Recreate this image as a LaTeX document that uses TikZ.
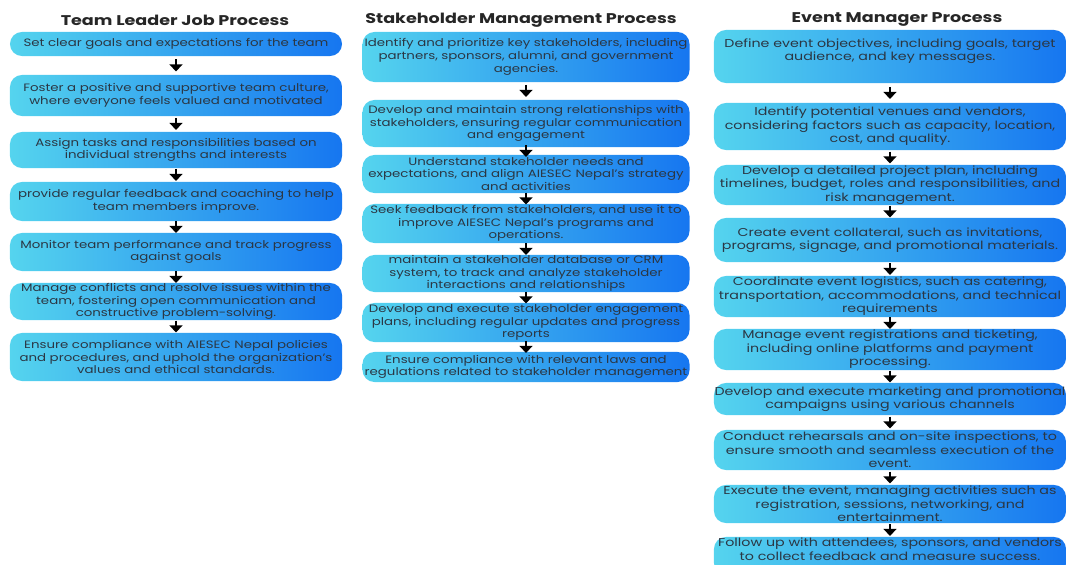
\documentclass[tikz,border=0pt]{standalone}
\usepackage{fontspec}
\setmainfont[FakeStretch=1.25]{Poppins}
\usetikzlibrary{arrows.meta,calc}
\definecolor{boxcyan}{HTML}{55D4EE}
\definecolor{boxblue}{HTML}{1676F0}
\definecolor{boxtext}{HTML}{2B3744}
\tikzset{
  stepbox/.style={rounded corners=0.3cm, left color=boxcyan, right color=boxblue,
    align=center, text=boxtext, inner sep=0pt},
  leadbox/.style={stepbox, minimum width=8.3cm, font=\fontsize{7.6}{9}\selectfont},
  stakebox/.style={stepbox, minimum width=8.175cm, font=\fontsize{7.6}{9}\selectfont},
  eventbox/.style={stepbox, minimum width=8.8cm, font=\fontsize{8.1}{9.6}\selectfont},
  heading/.style={font=\bfseries\fontsize{10}{12}\selectfont, text=black!85},
  flowarrow/.style={line width=2pt, -{Triangle[width=9pt,length=5pt]}}
}
\begin{document}
\begin{tikzpicture}[x=0.025cm,y=-0.025cm]
    \useasboundingbox (0,0) rectangle (1067,565);
    % team leader
    \node[heading] (lead) at (175,20) {Team Leader Job Process};
    \node[leadbox, minimum height=0.6cm] (t1) at (176,44) {Set clear goals and expectations for the team};
    \node[leadbox, minimum height=1.025cm] (t2) at (176,95.5) {Foster a positive and supportive team culture,\\ where everyone feels valued and motivated};
    \node[leadbox, minimum height=0.9cm] (t3) at (176,150) {Assign tasks and responsibilities based on\\ individual strengths and interests};
    \node[leadbox, minimum height=0.975cm] (t4) at (176,201.5) {provide regular feedback and coaching to help\\ team members improve.};
    \node[leadbox, minimum height=0.95cm] (t5) at (176,252) {Monitor team performance and track progress\\ against goals};
    \node[leadbox, minimum height=0.925cm] (t6) at (176,301.5) {Manage conflicts and resolve issues within the\\ team, fostering open communication and\\ constructive problem-solving.};
    \node[leadbox, minimum height=1.2cm] (t7) at (176,357) {Ensure compliance with AIESEC Nepal policies\\ and procedures, and uphold the organization's\\ values and ethical standards.};
    \draw[flowarrow] ($(t1.south)!.5!(t2.north)$) ++(0,-6) -- ++(0,12);
    \draw[flowarrow] ($(t2.south)!.5!(t3.north)$) ++(0,-6) -- ++(0,12);
    \draw[flowarrow] ($(t3.south)!.5!(t4.north)$) ++(0,-6) -- ++(0,12);
    \draw[flowarrow] ($(t4.south)!.5!(t5.north)$) ++(0,-6) -- ++(0,12);
    \draw[flowarrow] ($(t5.south)!.5!(t6.north)$) ++(0,-6) -- ++(0,12);
    \draw[flowarrow] ($(t6.south)!.5!(t7.north)$) ++(0,-6) -- ++(0,12);
    % stakeholder
    \node[heading] (stake) at (521,20) {Stakeholder Management Process};
    \node[stakebox, minimum height=1.25cm] (s1) at (526,57) {Identify and prioritize key stakeholders, including\\ partners, sponsors, alumni, and government\\ agencies.};
    \node[stakebox, minimum height=1.175cm] (s2) at (526,123.5) {Develop and maintain strong relationships with\\ stakeholders, ensuring regular communication\\ and engagement};
    \node[stakebox, minimum height=0.95cm] (s3) at (526,174) {Understand stakeholder needs and\\ expectations, and align AIESEC Nepal's strategy\\ and activities};
    \node[stakebox, minimum height=0.975cm] (s4) at (526,223.5) {Seek feedback from stakeholders, and use it to\\ improve AIESEC Nepal's programs and\\ operations.};
    \node[stakebox, minimum height=0.925cm] (s5) at (526,273.5) {maintain a stakeholder database or CRM\\ system, to track and analyze stakeholder\\ interactions and relationships};
    \node[stakebox, minimum height=0.975cm] (s6) at (526,322.5) {Develop and execute stakeholder engagement\\ plans, including regular updates and progress\\ reports};
    \node[stakebox, minimum height=0.75cm] (s7) at (526,367) {Ensure compliance with relevant laws and\\ regulations related to stakeholder management};
    \draw[flowarrow] ($(s1.south)!.5!(s2.north)$) ++(0,-6) -- ++(0,12);
    \draw[flowarrow] ($(s2.south)!.5!(s3.north)$) ++(0,-6) -- ++(0,12);
    \draw[flowarrow] ($(s3.south)!.5!(s4.north)$) ++(0,-6) -- ++(0,12);
    \draw[flowarrow] ($(s4.south)!.5!(s5.north)$) ++(0,-6) -- ++(0,12);
    \draw[flowarrow] ($(s5.south)!.5!(s6.north)$) ++(0,-6) -- ++(0,12);
    \draw[flowarrow] ($(s6.south)!.5!(s7.north)$) ++(0,-6) -- ++(0,12);
    % event manager
    \node[heading] (event) at (897,19) {Event Manager Process};
    \node[eventbox, minimum height=1.325cm] (e1) at (890,56.5) {Define event objectives, including goals, target\\ audience, and key messages.\\ \mbox{}};
    \node[eventbox, minimum height=1.175cm] (e2) at (890,126.5) {Identify potential venues and vendors,\\ considering factors such as capacity, location,\\ cost, and quality.};
    \node[eventbox, minimum height=1cm] (e3) at (890,185) {Develop a detailed project plan, including\\ timelines, budget, roles and responsibilities, and\\ risk management.};
    \node[eventbox, minimum height=1.1cm] (e4) at (890,240) {Create event collateral, such as invitations,\\ programs, signage, and promotional materials.};
    \node[eventbox, minimum height=1.025cm] (e5) at (890,296.5) {Coordinate event logistics, such as catering,\\ transportation, accommodations, and technical\\ requirements};
    \node[eventbox, minimum height=1.025cm] (e6) at (890,349.5) {Manage event registrations and ticketing,\\ including online platforms and payment\\ processing.};
    \node[eventbox, minimum height=0.8cm] (e7) at (890,399) {Develop and execute marketing and promotional\\ campaigns using various channels};
    \node[eventbox, minimum height=1cm] (e8) at (890,450) {Conduct rehearsals and on-site inspections, to\\ ensure smooth and seamless execution of the\\ event.};
    \node[eventbox, minimum height=0.95cm] (e9) at (890,504) {Execute the event, managing activities such as\\ registration, sessions, networking, and\\ entertainment.};
    \node[eventbox, minimum height=0.95cm] (e10) at (890,556) {Follow up with attendees, sponsors, and vendors\\ to collect feedback and measure success.\\ \mbox{}};
    \draw[flowarrow] ($(e1.south)!.5!(e2.north)$) ++(0,-6) -- ++(0,12);
    \draw[flowarrow] ($(e2.south)!.5!(e3.north)$) ++(0,-6) -- ++(0,12);
    \draw[flowarrow] ($(e3.south)!.5!(e4.north)$) ++(0,-6) -- ++(0,12);
    \draw[flowarrow] ($(e4.south)!.5!(e5.north)$) ++(0,-6) -- ++(0,12);
    \draw[flowarrow] ($(e5.south)!.5!(e6.north)$) ++(0,-6) -- ++(0,12);
    \draw[flowarrow] ($(e6.south)!.5!(e7.north)$) ++(0,-6) -- ++(0,12);
    \draw[flowarrow] ($(e7.south)!.5!(e8.north)$) ++(0,-6) -- ++(0,12);
    \draw[flowarrow] ($(e8.south)!.5!(e9.north)$) ++(0,-6) -- ++(0,12);
    \draw[flowarrow] ($(e9.south)!.5!(e10.north)$) ++(0,-6) -- ++(0,12);
\end{tikzpicture}
\end{document}
